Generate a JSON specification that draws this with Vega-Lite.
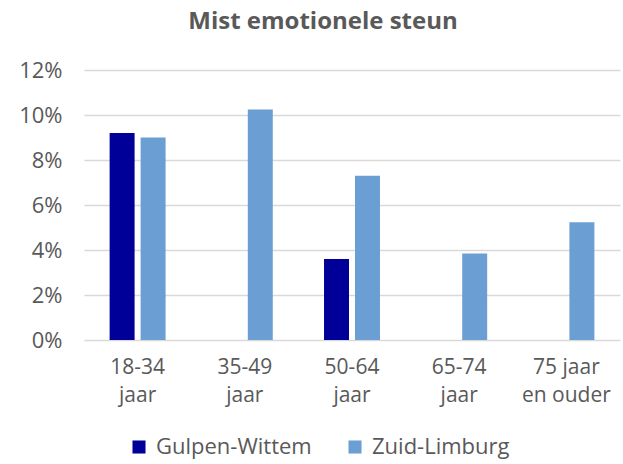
{
  "$schema": "https://vega.github.io/schema/vega-lite/v6.json",
  "width": 536,
  "height": 270,
  "autosize": {"type": "none"},
  "padding": {"left": 84, "top": 70, "right": 3, "bottom": 124},
  "background": "white",
  "title": {
    "text": "Mist emotionele steun",
    "anchor": "middle",
    "dx": -29,
    "offset": 25,
    "font": "Open Sans",
    "fontSize": 24,
    "fontWeight": "bold",
    "color": "#595959"
  },
  "data": {
    "values": [
      {"leeftijd": "18-34 jaar", "regio": "Gulpen-Wittem", "waarde": 0.092},
      {"leeftijd": "18-34 jaar", "regio": "Zuid-Limburg", "waarde": 0.090},
      {"leeftijd": "35-49 jaar", "regio": "Zuid-Limburg", "waarde": 0.1025},
      {"leeftijd": "50-64 jaar", "regio": "Gulpen-Wittem", "waarde": 0.036},
      {"leeftijd": "50-64 jaar", "regio": "Zuid-Limburg", "waarde": 0.073},
      {"leeftijd": "65-74 jaar", "regio": "Zuid-Limburg", "waarde": 0.0385},
      {"leeftijd": "75 jaar en ouder", "regio": "Zuid-Limburg", "waarde": 0.0523}
    ]
  },
  "mark": {"type": "bar"},
  "encoding": {
    "x": {
      "field": "leeftijd",
      "type": "nominal",
      "sort": ["18-34 jaar", "35-49 jaar", "50-64 jaar", "65-74 jaar", "75 jaar en ouder"],
      "scale": {"paddingInner": 0.478, "paddingOuter": 0.239},
      "axis": {
        "title": null,
        "labelAngle": 0,
        "labelExpr": "datum.label == '75 jaar en ouder' ? ['75 jaar', 'en ouder'] : split(datum.label, ' ')",
        "labelFont": "Open Sans",
        "labelFontSize": 21,
        "labelColor": "#595959",
        "labelLineHeight": 28,
        "labelPadding": 16,
        "ticks": false,
        "domain": false,
        "grid": false
      }
    },
    "xOffset": {
      "field": "regio",
      "type": "nominal",
      "sort": ["Gulpen-Wittem", "Zuid-Limburg"],
      "scale": {"paddingInner": 0.194, "paddingOuter": 0}
    },
    "y": {
      "field": "waarde",
      "type": "quantitative",
      "scale": {"domain": [0, 0.12], "nice": false},
      "axis": {
        "title": null,
        "values": [0, 0.02, 0.04, 0.06, 0.08, 0.1, 0.12],
        "format": ".0%",
        "labelFont": "Open Sans",
        "labelFontSize": 22,
        "labelColor": "#595959",
        "labelPadding": 22,
        "ticks": false,
        "domain": false,
        "gridColor": "#D9D9D9",
        "gridWidth": 1.5
      }
    },
    "color": {
      "field": "regio",
      "type": "nominal",
      "sort": ["Gulpen-Wittem", "Zuid-Limburg"],
      "scale": {"domain": ["Gulpen-Wittem", "Zuid-Limburg"], "range": ["#000099", "#6B9ED3"]},
      "legend": {
        "title": null,
        "orient": "none",
        "direction": "horizontal",
        "legendX": 44,
        "legendY": 366,
        "symbolType": "square",
        "symbolSize": 170,
        "symbolStrokeWidth": 0,
        "labelFont": "Open Sans",
        "labelFontSize": 22,
        "labelColor": "#595959",
        "labelOffset": 6,
        "labelLimit": 300,
        "columnPadding": 32
      }
    }
  },
  "config": {"view": {"stroke": null}}
}
